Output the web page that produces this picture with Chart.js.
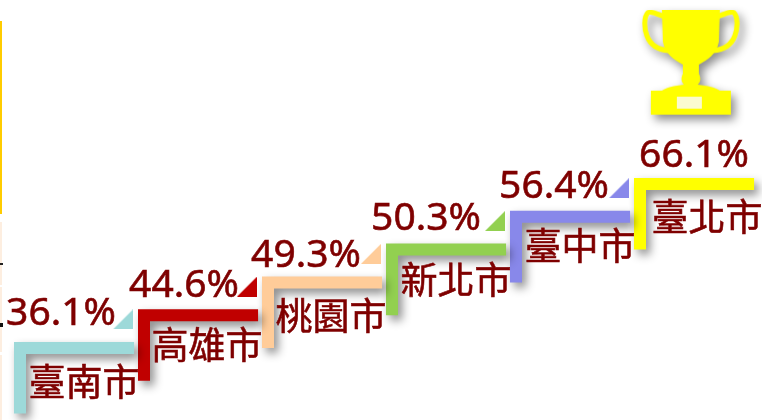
<!DOCTYPE html>
<html>
<head>
<meta charset="utf-8">
<style>
  html, body { margin: 0; background: #fff; }
  /* the strips left over at the picture's left edge */
  body {
    width: 762px;
    height: 420px;
    background-repeat: no-repeat;
    background-position: 0 0;
    background-size: 3px 420px, 2px 420px;
    background-image:
      linear-gradient(to bottom, transparent 263px, #222 263px, #222 265px, transparent 265px, transparent 323px, #111 323px, #111 327px, transparent 327px),
      linear-gradient(to bottom, transparent 21px, #ffcc00 21px, #ffcc00 214px, transparent 214px, transparent 222px, #fdeee0 222px, #fdeee0 285px, transparent 285px, transparent 287px, #fdeee0 287px, #fdeee0 352px, transparent 352px, transparent 355px, #fdeee0 355px);
  }
  canvas { display: block; }
</style>
<script src="https://cdn.jsdelivr.net/npm/chart.js@4"></script>
</head>
<body>
<canvas id="chartStairs" width="762" height="420"></canvas>
<script>
const cities = ['臺南市', '高雄市', '桃園市', '新北市', '臺中市', '臺北市'];
const shares = [36.1, 44.6, 49.3, 50.3, 56.4, 66.1];
const colors = ['#9dd9d9', '#c00000', '#ffcc99', '#92d050', '#8888ea', '#ffff00'];

// hand nudges (px) so each text box lands where it sits in the picture
const cityNudge = [[1, 4], [0, 0], [0, 4], [1, 0], [1, -1], [4, 3]];
const shareNudge = [[0, -4], [-1, 1], [-3, 3], [-7, -1], [-3, 0], [13, 2]];

const TEXT_COLOR = '#7f0000';
const LEG_DROP = 2;     // how far each riser falls, in steps
const TREAD = 0.92;     // how far each tread runs, in columns

// the stairs climb by rank of the share, not in proportion to it
const sorted = [...shares].sort((a, b) => a - b);
const ranks = shares.map(v => sorted.indexOf(v));

function triangleImage(color) {
    const c = document.createElement('canvas');
    c.width = 20;
    c.height = 20;
    const g = c.getContext('2d');
    g.fillStyle = color;
    g.beginPath();
    g.moveTo(20, 0);
    g.lineTo(20, 20);
    g.lineTo(0, 20);
    g.closePath();
    g.fill();
    return c;
}

function trophyImage() {
    const c = document.createElement('canvas');
    c.width = 98;
    c.height = 106;
    const g = c.getContext('2d');
    g.fillStyle = '#ffff00';
    g.strokeStyle = '#ffff00';
    // handles
    g.lineWidth = 5;
    g.beginPath();
    g.moveTo(22, 7);
    g.bezierCurveTo(15, 4, 9, 1, 6, 3);
    g.bezierCurveTo(2, 7, 2, 18, 5, 26);
    g.bezierCurveTo(8, 34, 14, 40, 27, 41);
    g.moveTo(76, 7);
    g.bezierCurveTo(83, 4, 89, 1, 92, 3);
    g.bezierCurveTo(96, 7, 96, 18, 93, 26);
    g.bezierCurveTo(90, 34, 84, 40, 71, 41);
    g.stroke();
    // bowl, stem and foot
    g.beginPath();
    g.moveTo(20, 0);
    g.lineTo(78, 0);
    g.lineTo(77, 32);
    g.bezierCurveTo(75, 44, 66, 50, 57, 55);
    g.lineTo(57, 64);
    g.bezierCurveTo(59, 68, 59, 72, 56, 75);
    g.bezierCurveTo(66, 76, 74, 78, 78, 81);
    g.lineTo(89, 81);
    g.lineTo(89, 105);
    g.lineTo(9, 105);
    g.lineTo(9, 81);
    g.lineTo(20, 81);
    g.bezierCurveTo(24, 78, 32, 76, 42, 75);
    g.bezierCurveTo(39, 72, 39, 68, 41, 64);
    g.lineTo(41, 55);
    g.bezierCurveTo(32, 50, 23, 44, 21, 32);
    g.closePath();
    g.fill();
    // plate on the foot
    g.fillStyle = '#fbfbd0';
    g.fillRect(35, 87, 25, 12);
    return c;
}

const stepSets = cities.map((city, i) => ({
    label: city,
    data: [
        { x: i, y: ranks[i] - LEG_DROP },
        { x: i, y: ranks[i] },
        { x: i + TREAD, y: ranks[i] },
    ],
    showLine: true,
    borderColor: colors[i],
    borderWidth: 12,
    borderJoinStyle: 'miter',
    borderCapStyle: 'butt',
    pointRadius: 0,
    shadow: true,
}));

const triangleSet = {
    label: 'markers',
    data: cities.slice(0, -1).map((city, i) => ({ x: i + 0.83, y: ranks[i] + 0.87 })),
    pointStyle: colors.slice(0, -1).map(triangleImage),
    pointRadius: 10,
    showLine: false,
};

const trophySet = {
    label: 'trophy',
    data: [{ x: cities.length - 1 + 0.41, y: Math.max(...ranks) + 3.7 }],
    pointStyle: trophyImage(),
    pointRadius: 10,
    showLine: false,
    shadow: true,
};

const stairShadow = {
    id: 'stairShadow',
    beforeDatasetDraw(chart, args) {
        if (!chart.data.datasets[args.index].shadow) return;
        const ctx = chart.ctx;
        ctx.save();
        ctx.shadowColor = 'rgba(0, 0, 0, 0.45)';
        ctx.shadowBlur = 10;
        ctx.shadowOffsetX = 4;
        ctx.shadowOffsetY = 5;
    },
    afterDatasetDraw(chart, args) {
        if (chart.data.datasets[args.index].shadow) chart.ctx.restore();
    },
};

// a hairline stroke thickens the glyphs to the weight of the picture
function heavyText(ctx, text, px, py) {
    ctx.fillText(text, px, py);
    ctx.strokeText(text, px, py);
}

const stairLabels = {
    id: 'stairLabels',
    afterDatasetsDraw(chart) {
        const { ctx, scales: { x, y } } = chart;
        ctx.save();
        ctx.fillStyle = TEXT_COLOR;
        ctx.strokeStyle = TEXT_COLOR;
        ctx.lineWidth = 0.6;
        ctx.textBaseline = 'middle';
        ctx.textAlign = 'center';
        cities.forEach((city, i) => {
            const left = x.getPixelForValue(i);
            const top = y.getPixelForValue(ranks[i]);
            ctx.font = '37px "Noto Sans CJK TC"';
            heavyText(ctx, city, left + 63 + cityNudge[i][0], top + 30 + cityNudge[i][1]);
            ctx.font = '39px "Noto Sans"';
            heavyText(ctx, shares[i].toFixed(1) + '%', left + 41 + shareNudge[i][0], top - 30 + shareNudge[i][1]);
        });
        ctx.restore();
    },
};

new Chart(document.getElementById('chartStairs').getContext('2d'), {
    type: 'scatter',
    data: { datasets: [trophySet, triangleSet, ...stepSets] },
    options: {
        responsive: false,
        animation: false,
        layout: { padding: 0, autoPadding: false },
        plugins: { legend: { display: false }, tooltip: { enabled: false } },
        scales: {
            x: { type: 'linear', display: false, min: -20 / 124, max: 742 / 124 },
            y: { type: 'linear', display: false, min: -72 / 32.8, max: 348 / 32.8 },
        },
    },
    plugins: [stairShadow, stairLabels],
});
</script>
</body>
</html>
